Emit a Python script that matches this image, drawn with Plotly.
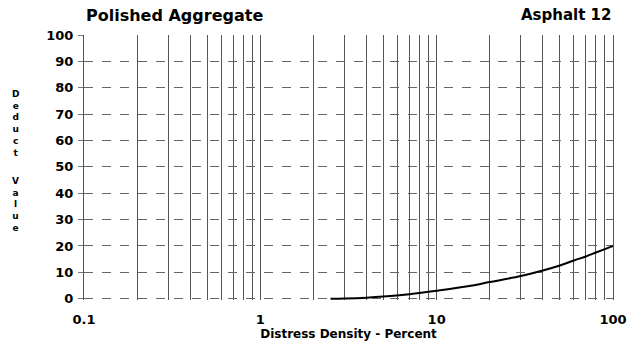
import plotly.graph_objects as go

# Data
density = [2.5, 3, 4, 5, 7, 10, 15, 20, 30, 40, 50, 60, 70, 80, 90, 100]
deduct = [0.0, 0.1, 0.4, 0.8, 1.7, 3.0, 4.7, 6.3, 8.6, 10.7, 12.6, 14.5, 16.0, 17.5, 18.8, 20.0]

x_tickvals = [0.1, 1, 10, 100]
x_ticktext = ["0.1", "1", "10", "100"]
y_tickvals = list(range(0, 101, 10))

title_left = "Polished Aggregate"
title_right = "Asphalt 12"
x_title = "Distress Density - Percent"
y_title_words = ["Deduct", "Value"]

FONT = "DejaVu Sans"
W, H = 627, 344
ML, MR, MT, MB = 84, 14, 35, 44

fig = go.Figure()
fig.add_trace(go.Scatter(x=density, y=deduct, mode="lines",
                         line=dict(color="black", width=2, shape="spline"),
                         showlegend=False, hoverinfo="skip"))

fig.update_layout(
    width=W, height=H,
    margin=dict(l=ML, r=MR, t=MT, b=MB, pad=0, autoexpand=False),
    paper_bgcolor="white", plot_bgcolor="white",
    font=dict(family=FONT, color="black", size=12, weight="bold"),
)

fig.update_xaxes(
    type="log", range=[-1, 2], automargin=False,
    tickvals=x_tickvals, ticktext=x_ticktext,
    showgrid=True, gridcolor="#555", gridwidth=1.2,
    minor=dict(dtick="D1", showgrid=True, gridcolor="#555", gridwidth=1.2),
    showline=False, zeroline=False, ticks="", ticklabelstandoff=10,
    tickfont=dict(family=FONT, size=13, weight="bold"),
    title=dict(text=x_title, font=dict(family=FONT, size=12, weight="bold"), standoff=0),
)
fig.update_yaxes(
    range=[-0.5, 100], tickvals=y_tickvals, automargin=False,
    showgrid=True, gridcolor="#666", gridwidth=1, griddash="dash",
    showline=True, mirror=True, linecolor="#555", linewidth=1.2,
    zeroline=False, ticks="outside", ticklen=5, tickcolor="#777",
    ticklabelstandoff=2,
    tickfont=dict(family=FONT, size=13, weight="bold"),
)

plot_h = H - MT - MB
plot_w = W - ML - MR
annotations = [
    dict(text=title_left, xref="paper", yref="paper", x=0, y=1 + 20 / plot_h,
         xanchor="left", yanchor="middle", showarrow=False,
         font=dict(family=FONT, size=16, weight="bold")),
    dict(text=title_right, xref="paper", yref="paper", x=1, y=1 + 20 / plot_h,
         xanchor="right", yanchor="middle", showarrow=False,
         font=dict(family=FONT, size=15, weight="bold")),
]
centers = [123.5, 204]
for word, cy in zip(y_title_words, centers):
    annotations.append(dict(
        text="<br>".join(word), xref="paper", yref="paper",
        x=(15 - ML) / plot_w, y=(H - MB - cy) / plot_h,
        xanchor="center", yanchor="middle", showarrow=False,
        font=dict(family=FONT, size=9, weight="bold")))
fig.update_layout(annotations=annotations)

fig.write_html("out.html")
